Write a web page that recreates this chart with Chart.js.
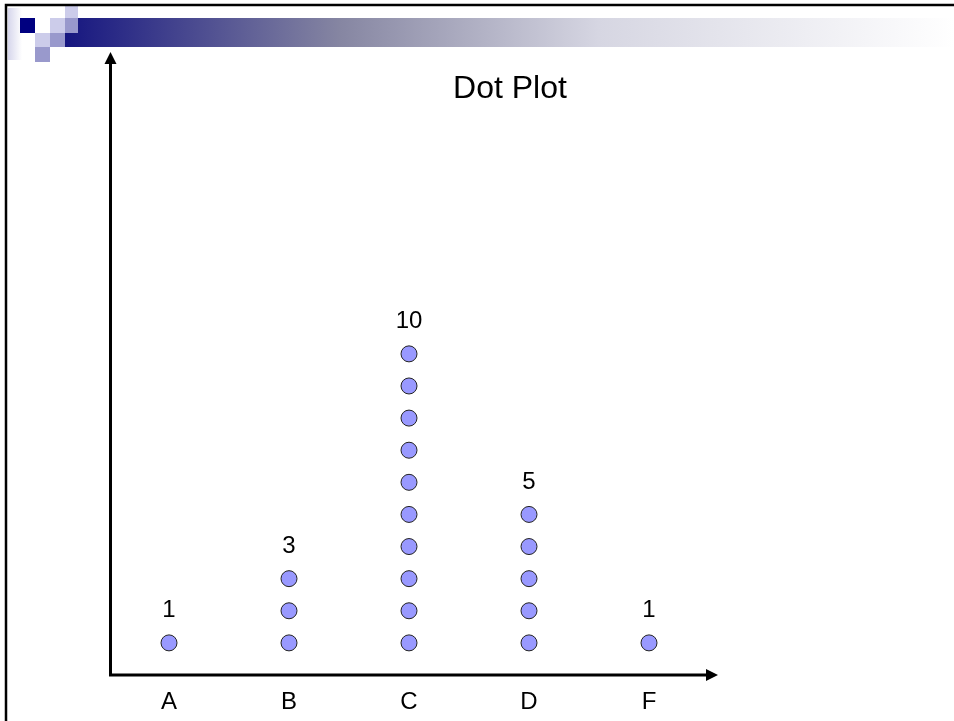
<!DOCTYPE html>
<html>
<head>
<meta charset="utf-8">
<title>Dot Plot</title>
<script src="https://cdn.jsdelivr.net/npm/chart.js@4"></script>
<style>
  html, body { margin: 0; padding: 0; background: #fff; }
  #wrap { width: 954px; height: 721px; position: relative; }
</style>
</head>
<body>
<div id="wrap"><canvas id="dotChart"></canvas></div>
<script>
// Data
const categories = ['A', 'B', 'C', 'D', 'F'];
const counts = [1, 3, 10, 5, 1];
const chartTitle = 'Dot Plot';

// one dot per unit, stacked from level 1 upward
const dots = [];
categories.forEach((cat, i) => {
    for (let k = 1; k <= counts[i]; k++) dots.push({ x: cat, y: k });
});

const FONT = '"Liberation Sans", Arial, sans-serif';

// slide background: border, squares, gradient bar, title
const slidePlugin = {
    id: 'slide',
    beforeDraw(chart) {
        const ctx = chart.ctx;
        const W = chart.width;
        ctx.save();

        // faint strip on the left
        let g = ctx.createLinearGradient(8, 0, 22, 0);
        g.addColorStop(0, '#d6d6ec');
        g.addColorStop(1, '#ffffff');
        ctx.fillStyle = g;
        ctx.fillRect(8, 8, 14, 52);

        // gradient bar
        g = ctx.createLinearGradient(65, 0, W, 0);
        g.addColorStop(0, '#161680');
        g.addColorStop(0.31, '#8686a2');
        g.addColorStop(0.6, '#d6d6e2');
        g.addColorStop(1, '#ffffff');
        ctx.fillStyle = g;
        ctx.fillRect(65, 18, W - 65, 29);

        const squares = [
            [20, 18, 15, 15, '#000080'],
            [50, 18, 15, 15, '#ccccea'],
            [65, 18, 13, 15, '#9999cc'],
            [65, 6, 13, 12, '#ccccea'],
            [35, 33, 15, 14, '#ccccea'],
            [50, 33, 15, 14, '#9999cc'],
            [35, 47, 15, 15, '#9999cc']
        ];
        squares.forEach(s => {
            ctx.fillStyle = s[4];
            ctx.fillRect(s[0], s[1], s[2], s[3]);
        });

        // slide border
        ctx.strokeStyle = '#000';
        ctx.lineWidth = 2.5;
        ctx.beginPath();
        ctx.moveTo(W, 5);
        ctx.lineTo(6, 5);
        ctx.lineTo(6, chart.height);
        ctx.stroke();

        // title
        ctx.fillStyle = '#000';
        ctx.font = '32px ' + FONT;
        ctx.textAlign = 'center';
        ctx.textBaseline = 'alphabetic';
        ctx.fillText(chartTitle, 510, 98);
        ctx.restore();
    }
};

// axes with arrow heads, and the count above each column
const axesPlugin = {
    id: 'arrowAxes',
    afterDatasetsDraw(chart) {
        const { ctx, chartArea, scales } = chart;
        const x0 = chartArea.left + 1.5;
        const y0 = chartArea.bottom;
        const xTip = chartArea.right + 9;
        const yTip = chartArea.top;
        const head = 12;
        ctx.save();
        ctx.strokeStyle = '#000';
        ctx.fillStyle = '#000';
        ctx.lineWidth = 3;
        ctx.beginPath();
        ctx.moveTo(x0, yTip + head - 1);
        ctx.lineTo(x0, y0);
        ctx.lineTo(xTip - head + 1, y0);
        ctx.stroke();

        ctx.beginPath();
        ctx.moveTo(x0, yTip);
        ctx.lineTo(x0 - 6, yTip + head);
        ctx.lineTo(x0 + 6, yTip + head);
        ctx.closePath();
        ctx.fill();

        ctx.beginPath();
        ctx.moveTo(xTip, y0);
        ctx.lineTo(xTip - head, y0 - 6);
        ctx.lineTo(xTip - head, y0 + 6);
        ctx.closePath();
        ctx.fill();

        ctx.font = '24px ' + FONT;
        ctx.textAlign = 'center';
        ctx.textBaseline = 'middle';
        categories.forEach((cat, i) => {
            const px = scales.x.getPixelForValue(i);
            const py = scales.y.getPixelForValue(counts[i] + 1);
            ctx.fillText(String(counts[i]), px, py);
        });
        ctx.restore();
    }
};

new Chart(document.getElementById('dotChart'), {
    type: 'scatter',
    data: {
        labels: categories,
        datasets: [{
            data: dots,
            pointRadius: 8,
            pointHoverRadius: 8,
            pointBackgroundColor: '#9999ff',
            pointBorderColor: '#222',
            pointBorderWidth: 1
        }]
    },
    options: {
        responsive: true,
        maintainAspectRatio: false,
        animation: false,
        events: [],
        layout: { padding: { left: 109, right: 245, top: 52, bottom: 0 } },
        plugins: {
            legend: { display: false },
            tooltip: { enabled: false },
            title: { display: false }
        },
        scales: {
            x: {
                type: 'category',
                labels: categories,
                offset: true,
                border: { display: false },
                grid: { display: false, drawTicks: false },
                ticks: {
                    color: '#000',
                    padding: 12.6,
                    font: { family: FONT, size: 24 }
                },
                afterFit(scale) { scale.height = 46; }
            },
            y: {
                display: false,
                min: 0,
                max: 19.4
            }
        }
    },
    plugins: [slidePlugin, axesPlugin]
});
</script>
</body>
</html>
